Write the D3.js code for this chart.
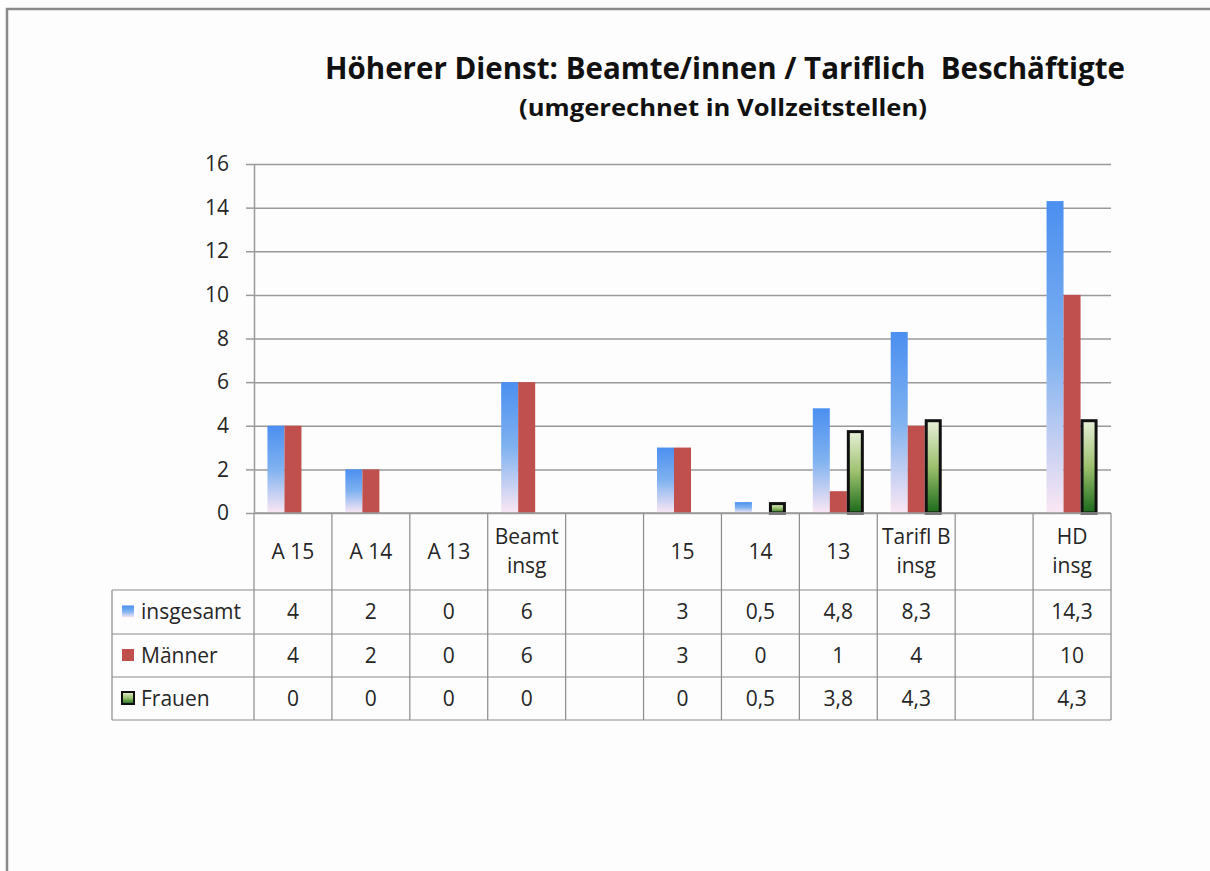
<!DOCTYPE html>
<html>
<head>
<meta charset="utf-8">
<script src="https://cdn.jsdelivr.net/npm/d3@7"></script>
<style>
  body { margin: 0; background: #fdfdfd; }
  svg { display: block; }
  text { font-family: "Open Sans", "Noto Sans", sans-serif; fill: #262626; }
</style>
</head>
<body>
<div id="chart"></div>
<script>
// categories (header row of the data table), "\n" = line break
var categories = ["A 15", "A 14", "A 13", "Beamt\ninsg", "", "15", "14", "13", "Tarifl B\ninsg", "", "HD\ninsg"];
var series = ["insgesamt", "Männer", "Frauen"];
var insgesamt = [4, 2, 0, 6, null, 3, 0.5, 4.8, 8.3, null, 14.3];
var maenner   = [4, 2, 0, 6, null, 3, 0,   1,   4,   null, 10];
var frauen    = [0, 0, 0, 0, null, 0, 0.5, 3.8, 4.3, null, 4.3];
var yTicks = [0, 2, 4, 6, 8, 10, 12, 14, 16];

var width = 1210, height = 871;

var svg = d3.select("#chart")
    .append("svg")
    .attr("width", width)
    .attr("height", height);

var defs = svg.append("defs");
var blue = defs.append("linearGradient").attr("id", "g_blue")
    .attr("x1", 0).attr("y1", 0).attr("x2", 0).attr("y2", 1);
blue.append("stop").attr("offset", "0%").attr("stop-color", "#4b8ff0");
blue.append("stop").attr("offset", "50%").attr("stop-color", "#80b2f0");
blue.append("stop").attr("offset", "100%").attr("stop-color", "#fbe7f4");
var green = defs.append("linearGradient").attr("id", "g_green")
    .attr("x1", 0).attr("y1", 0).attr("x2", 0).attr("y2", 1);
green.append("stop").attr("offset", "0%").attr("stop-color", "#e8f0d9");
green.append("stop").attr("offset", "50%").attr("stop-color", "#9cc06d");
green.append("stop").attr("offset", "100%").attr("stop-color", "#1a6a1a");

var fills = ["url(#g_blue)", "#c0504d", "url(#g_green)"];
var data = [insgesamt, maenner, frauen];

// frame
svg.append("path")
    .attr("d", "M7,871 L7,9 L1210,9")
    .attr("fill", "none")
    .attr("stroke", "#8a8a8a")
    .attr("stroke-width", 2.5);

// title
svg.append("text")
    .attr("x", 325).attr("y", 79)
    .attr("font-size", 31).attr("font-weight", "bold")
    .attr("textLength", 800).attr("lengthAdjust", "spacingAndGlyphs")
    .style("white-space", "pre")
    .text("Höherer Dienst: Beamte/innen / Tariflich  Beschäftigte")
    .style("fill", "#111");
svg.append("text")
    .attr("x", 519).attr("y", 116)
    .attr("font-size", 23).attr("font-weight", "bold")
    .attr("textLength", 408).attr("lengthAdjust", "spacingAndGlyphs")
    .text("(umgerechnet in Vollzeitstellen)")
    .style("fill", "#111");

var plotL = 254, plotR = 1111, plotT = 164, plotB = 513;
var x = d3.scaleBand().domain(d3.range(categories.length)).range([plotL, plotR]);
var x1 = d3.scaleBand().domain(d3.range(series.length)).range([0, x.bandwidth()]).paddingOuter(0.79);
var y = d3.scaleLinear().domain([0, 16]).range([plotB, plotT]);

// gridlines
svg.append("g")
    .attr("transform", `translate(${plotL},0)`)
    .call(d3.axisLeft(y).tickValues(yTicks).tickSize(-(plotR - plotL)).tickFormat(""))
    .call(g => g.select(".domain").remove())
    .call(g => g.selectAll("line").attr("stroke", "#9a9a9a").attr("stroke-width", 1.5));

// y axis
svg.append("g")
    .attr("transform", `translate(${plotL},0)`)
    .call(d3.axisLeft(y).tickValues(yTicks).tickSize(8).tickSizeOuter(0).tickPadding(17))
    .call(g => g.select(".domain").attr("stroke", "#9a9a9a").attr("stroke-width", 1.5))
    .call(g => g.selectAll("line").attr("stroke", "#9a9a9a").attr("stroke-width", 1.5))
    .call(g => g.selectAll("text").attr("font-size", 21).attr("font-family", "Open Sans").attr("fill", "#262626"));

// bars
series.forEach(function(s, si){
    var gb = svg.append("g").attr("class", "series");
    var inset = si == 2 ? 1.5 : 0;
    gb.selectAll("rect")
        .data(data[si].map((v, i) => ({i: i, v: v})).filter(d => d.v))
        .enter()
        .append("rect")
        .attr("x", d => x(d.i) + x1(si) + inset)
        .attr("y", d => y(d.v) + inset)
        .attr("width", x1.bandwidth() - 2 * inset)
        .attr("height", d => y(0) - y(d.v) - inset)
        .attr("fill", fills[si])
        .attr("stroke", si == 2 ? "#111" : "none")
        .attr("stroke-width", 3);
});

// data table
var tableColor = "#8c8c8c";
var headerBottom = 590;
var rowEdges = [590, 634, 677, 720];
var legendLeft = 112;
var tbl = svg.append("g").attr("class", "table");

d3.range(categories.length + 1).forEach(function(k){
    var xx = k < categories.length ? x(k) : plotR;
    tbl.append("line")
        .attr("x1", xx).attr("x2", xx)
        .attr("y1", plotB).attr("y2", rowEdges[3])
        .attr("stroke", tableColor).attr("stroke-width", 1.2);
});
tbl.append("line")
    .attr("x1", legendLeft).attr("x2", legendLeft)
    .attr("y1", rowEdges[0]).attr("y2", rowEdges[3])
    .attr("stroke", tableColor).attr("stroke-width", 1.2);
rowEdges.forEach(function(ry){
    tbl.append("line")
        .attr("x1", legendLeft).attr("x2", plotR)
        .attr("y1", ry).attr("y2", ry)
        .attr("stroke", tableColor).attr("stroke-width", 1.2);
});
tbl.append("line")
    .attr("x1", plotL).attr("x2", plotR)
    .attr("y1", plotB).attr("y2", plotB)
    .attr("stroke", "#9a9a9a").attr("stroke-width", 1.5);

// header labels
categories.forEach(function(c, i){
    var lines = c.split("\n");
    var cx = x(i) + x.bandwidth() / 2;
    var cy = (plotB + headerBottom) / 2;
    lines.forEach(function(l, li){
        tbl.append("text")
            .attr("x", cx)
            .attr("y", cy + (li - (lines.length - 1) / 2) * 29)
            .attr("dy", "0.35em")
            .attr("text-anchor", "middle")
            .attr("font-size", 21)
            .text(l);
    });
});

// body rows
var fmt = v => String(v).replace(".", ",");
series.forEach(function(s, si){
    var cy = (rowEdges[si] + rowEdges[si + 1]) / 2;
    tbl.append("rect")
        .attr("x", 122).attr("y", cy - 6.5)
        .attr("width", 12).attr("height", 12)
        .attr("fill", si == 0 ? "url(#g_blue)" : fills[si])
        .attr("stroke", si == 2 ? "#111" : "none")
        .attr("stroke-width", 2);
    tbl.append("text")
        .attr("x", 141).attr("y", cy)
        .attr("dy", "0.35em")
        .attr("font-size", 21)
        .text(s);
    data[si].forEach(function(v, i){
        if (v === null) return;
        tbl.append("text")
            .attr("x", x(i) + x.bandwidth() / 2)
            .attr("y", cy)
            .attr("dy", "0.35em")
            .attr("text-anchor", "middle")
            .attr("font-size", 21)
            .text(fmt(v));
    });
});
</script>
</body>
</html>
